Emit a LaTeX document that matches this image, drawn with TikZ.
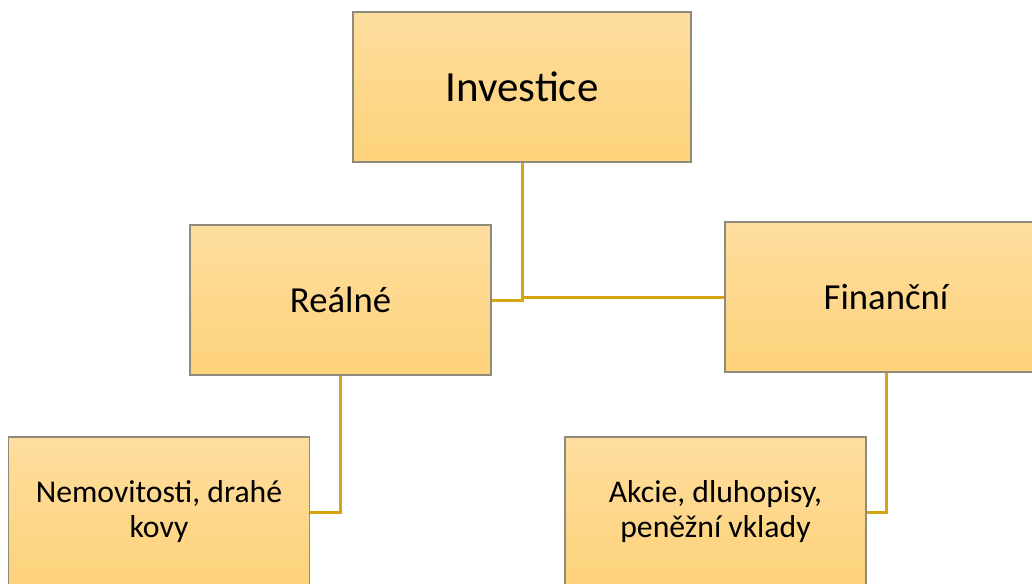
\documentclass[tikz,border=0pt]{standalone}
\usepackage{fontspec}
\setmainfont{Carlito}
\definecolor{boxtop}{HTML}{FEDD9E}
\definecolor{boxbottom}{HTML}{FDD27A}
\definecolor{boxline}{HTML}{8E8A7C}
\definecolor{linkline}{HTML}{D6A512}
\begin{document}
\begin{tikzpicture}[x=1pt,y=-1pt,
  box/.style={rectangle, draw=boxline, line width=1.2pt, top color=boxtop, bottom color=boxbottom,
    minimum width=301pt, minimum height=150pt, align=center, inner sep=0pt},
  link/.style={draw=linkline, line width=3pt}]
\useasboundingbox (0,0) rectangle (1032,583);

\node[box, minimum width=338pt, font=\fontsize{43}{51}\selectfont] (inv) at (522,87) {Investice};
\node[box, font=\fontsize{36.7}{44}\selectfont] (real) at (340.5,300) {Reálné};
\node[box, minimum width=322pt, font=\fontsize{36.7}{44}\selectfont] (fin) at (886,297) {Finanční};
\node[box, font=\fontsize{31.7}{35}\selectfont] (nem) at (159,512) {Nemovitosti, drahé\\kovy};
\node[box, font=\fontsize{31.7}{35}\selectfont] (akc) at (715.5,512) {Akcie, dluhopisy,\\peněžní vklady};

\draw[link] (inv.south) |- (real.east);
\draw[link] (inv.south) |- (fin.west);
\draw[link] (real.south) |- (nem.east);
\draw[link] (fin.south) |- (akc.east);
\end{tikzpicture}
\end{document}
